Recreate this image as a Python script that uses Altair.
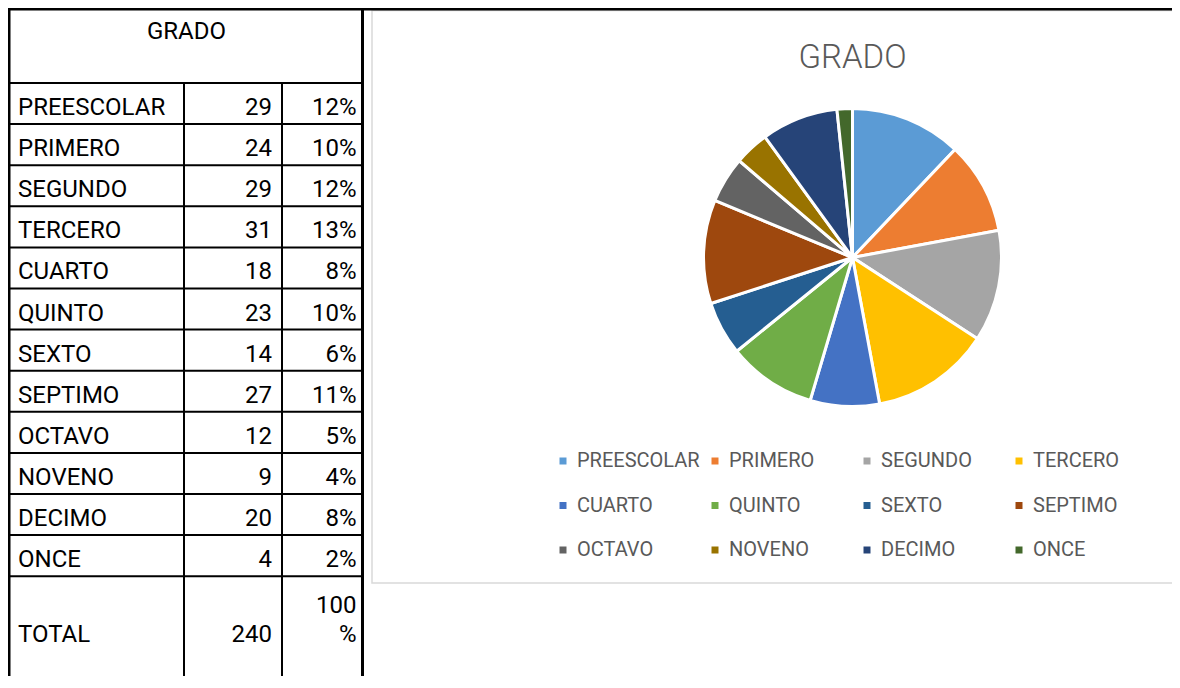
import altair as alt
import pandas as pd

# ---- data ----
grados = ["PREESCOLAR", "PRIMERO", "SEGUNDO", "TERCERO", "CUARTO", "QUINTO",
          "SEXTO", "SEPTIMO", "OCTAVO", "NOVENO", "DECIMO", "ONCE"]
cantidades = [29, 24, 29, 31, 18, 23, 14, 27, 12, 9, 20, 4]
porcentajes = ["12%", "10%", "12%", "13%", "8%", "10%", "6%", "11%", "5%", "4%", "8%", "2%"]
total_label = "TOTAL"
total_cantidad = "240"
total_pct = ["100", "%"]
titulo = "GRADO"
colores = ["#5B9BD5", "#ED7D31", "#A5A5A5", "#FFC000", "#4472C4", "#70AD47",
           "#255E91", "#9E480E", "#636363", "#997300", "#264478", "#43682B"]

# ---- layout (pixels inside the chart) ----
W, H = 1164, 668
HEAD = 75.0
ROW = 41.1
X_C1, X_C2, X_R = 176.0, 274.0, 354.5
FONT = "Roboto"

xs = alt.Scale(domain=[0, W], range=[0, W], nice=False, zero=False)
ys = alt.Scale(domain=[0, H], range=[0, H], nice=False, zero=False)

# table grid lines
lines = [dict(x1=0, x2=W, y1=1, y2=1, w=3),
         dict(x1=1, x2=1, y1=0, y2=H, w=3),
         dict(x1=X_R, x2=X_R, y1=0, y2=H, w=3),
         dict(x1=0, x2=X_R, y1=HEAD, y2=HEAD, w=2),
         dict(x1=X_C1, x2=X_C1, y1=HEAD, y2=H, w=2),
         dict(x1=X_C2, x2=X_C2, y1=HEAD, y2=H, w=2)]
for k in range(1, len(grados) + 1):
    yk = HEAD + k * ROW
    lines.append(dict(x1=0, x2=X_R, y1=yk, y2=yk, w=2))
lines_df = pd.DataFrame(lines)

rules = alt.Chart(lines_df).mark_rule(color="black").encode(
    x=alt.X("x1:Q", scale=xs, axis=None), x2="x2:Q",
    y=alt.Y("y1:Q", scale=ys, axis=None), y2="y2:Q",
    strokeWidth=alt.StrokeWidth("w:Q", scale=None, legend=None),
)

tabla_df = pd.DataFrame({"grado": grados, "cantidad": cantidades,
                         "pct": porcentajes, "idx": list(range(len(grados)))})
base_t = alt.Chart(tabla_df).transform_calculate(
    ty=f"{HEAD} + datum.idx * {ROW} + 32")
txt = dict(font=FONT, fontSize=24, color="black", baseline="alphabetic")
col_nombre = base_t.mark_text(align="left", **txt).encode(
    x=alt.value(10), y=alt.Y("ty:Q", scale=ys, axis=None), text="grado:N")
col_cant = base_t.mark_text(align="right", **txt).encode(
    x=alt.value(X_C2 - 10), y=alt.Y("ty:Q", scale=ys, axis=None), text="cantidad:Q")
col_pct = base_t.mark_text(align="right", **txt).encode(
    x=alt.value(X_R - 6), y=alt.Y("ty:Q", scale=ys, axis=None), text="pct:N")

tot_df = pd.DataFrame({"t": [total_label, total_cantidad, total_pct[0], total_pct[1]],
                       "tx": [10, X_C2 - 10, X_R - 6, X_R - 6],
                       "ty": [634, 634, 605, 634]})
tot_left = alt.Chart(tot_df.iloc[[0]]).mark_text(align="left", **txt).encode(
    x=alt.X("tx:Q", scale=xs, axis=None), y=alt.Y("ty:Q", scale=ys, axis=None), text="t:N")
tot_right = alt.Chart(tot_df.iloc[1:]).mark_text(align="right", **txt).encode(
    x=alt.X("tx:Q", scale=xs, axis=None), y=alt.Y("ty:Q", scale=ys, axis=None), text="t:N")

head_df = pd.DataFrame({"t": [titulo]})
encabezado = alt.Chart(head_df).mark_text(align="center", **txt).encode(
    x=alt.value(178.5), y=alt.value(31), text="t:N")

# chart area box
box_df = pd.DataFrame({"x1": [364], "x2": [W + 10], "y1": [2.5], "y2": [575]})
caja = alt.Chart(box_df).mark_rect(fill="white", stroke="#D9D9D9", strokeWidth=1.5).encode(
    x=alt.X("x1:Q", scale=xs, axis=None), x2="x2:Q",
    y=alt.Y("y1:Q", scale=ys, axis=None), y2="y2:Q")

titulo_graf = alt.Chart(head_df).mark_text(
    align="center", baseline="alphabetic", font=FONT, fontWeight=300,
    fontSize=33, color="#595959").encode(
    x=alt.value(844.5), y=alt.value(60), text="t:N")

pie_df = pd.DataFrame({"grado": grados, "cantidad": cantidades,
                       "idx": list(range(len(grados)))})
pie = alt.Chart(pie_df).mark_arc(radius=149, stroke="white", strokeWidth=3).encode(
    theta=alt.Theta("cantidad:Q", stack=True),
    order=alt.Order("idx:Q"),
    color=alt.Color("grado:N", scale=alt.Scale(domain=grados, range=colores),
                    legend=alt.Legend(title=None, orient="none", legendX=545, legendY=443,
                                      direction="horizontal",
                                      columns=4, gridAlign="all", symbolType="square",
                                      symbolSize=49, symbolStrokeWidth=0, symbolOpacity=1,
                                      labelFont=FONT, labelFontSize=20, labelColor="#595959",
                                      labelOffset=4, columnPadding=5, rowPadding=24.5,
                                      padding=0, labelLimit=300)),
    x=alt.value(844.5), y=alt.value(249.5),
)

chart = alt.layer(caja, rules, encabezado, col_nombre, col_cant, col_pct,
                  tot_left, tot_right, titulo_graf, pie).properties(
    width=W, height=H, padding=0,
    autosize=alt.AutoSizeParams(type="none"),
    background="white",
).configure_view(stroke=None)

chart.save("out.html", embed_options={"renderer": "svg", "actions": False})
